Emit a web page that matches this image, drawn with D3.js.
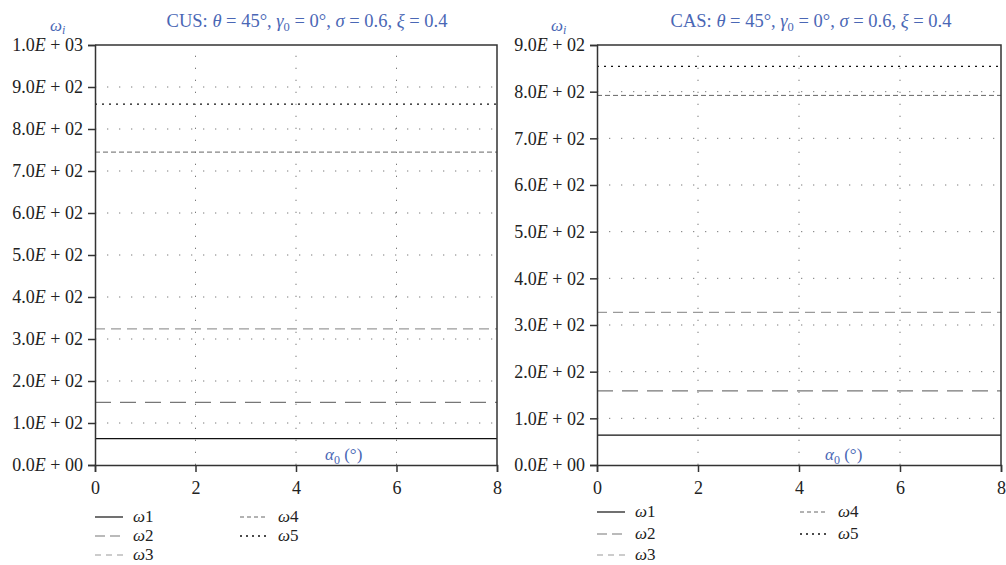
<!DOCTYPE html>
<html>
<head>
<meta charset="utf-8">
<script src="https://cdn.jsdelivr.net/npm/d3@7"></script>
<style>
  html, body { margin: 0; padding: 0; background: #fff; }
  svg { display: block; }
  svg text { font-family: "Liberation Serif", "DejaVu Serif", serif !important; }
</style>
</head>
<body>
<svg id="chart" width="1006" height="565"></svg>
<script>
// Natural frequencies ω1..ω5 versus initial angle α0 for the two layups
const alpha = [0, 8];
const xTicks = [0, 2, 4, 6, 8];
const seriesNames = ["1", "2", "3", "4", "5"];

// CUS layup: one value per end of the α0 range
const cusW1 = [63, 63];
const cusW2 = [149, 149];
const cusW3 = [324, 324];
const cusW4 = [745, 745];
const cusW5 = [859, 859];

// CAS layup
const casW1 = [64, 64];
const casW2 = [159, 159];
const casW3 = [327, 327];
const casW4 = [792, 792];
const casW5 = [854, 854];

const cusYTicks = [0, 100, 200, 300, 400, 500, 600, 700, 800, 900, 1000];
const casYTicks = [0, 100, 200, 300, 400, 500, 600, 700, 800, 900];

const blue = "#4a67b5";
const lineStyles = [
  { stroke: "#111", dash: null, width: 1.2 },
  { stroke: "#777", dash: "16,9", width: 1.2 },
  { stroke: "#9a9a9a", dash: "10,6", width: 1.2 },
  { stroke: "#666", dash: "5,3", width: 1 },
  { stroke: "#111", dash: "2,5", width: 1.3 }
];

const panels = [
  {
    name: "CUS", yMax: 1000, yTicks: cusYTicks,
    series: [cusW1, cusW2, cusW3, cusW4, cusW5],
    left: 95, right: 497, top: 45, bottom: 465,
    titleX: 307, wiX: 50, alphaX: 325,
    legend: { col1: 95, col2: 240, rows: [517, 536, 555] }
  },
  {
    name: "CAS", yMax: 900, yTicks: casYTicks,
    series: [casW1, casW2, casW3, casW4, casW5],
    left: 597, right: 1001, top: 45, bottom: 465,
    titleX: 811, wiX: 551, alphaX: 825,
    legend: { col1: 597, col2: 800, rows: [512, 534, 555] }
  }
];

const svg = d3.select("#chart");

function sciParts(v) {
  if (v === 0) return ["0.0", "00"];
  const e = Math.floor(Math.log10(v));
  const m = v / Math.pow(10, e);
  return [m.toFixed(1), String(e).padStart(2, "0")];
}

panels.forEach(p => {
  const g = svg.append("g");
  const x = d3.scaleLinear().domain([0, 8]).range([p.left, p.right]);
  const y = d3.scaleLinear().domain([0, p.yMax]).range([p.bottom, p.top]);

  // dotted grid
  g.append("g").selectAll("line")
    .data(p.yTicks.filter(v => v > 0 && v < p.yMax))
    .join("line")
    .attr("x1", p.left).attr("x2", p.right)
    .attr("y1", d => y(d)).attr("y2", d => y(d))
    .attr("stroke", "#7a7a7a").attr("stroke-width", 1)
    .attr("stroke-dasharray", "1.3,10.7");
  g.append("g").selectAll("line")
    .data(xTicks.filter(v => v > 0 && v < 8))
    .join("line")
    .attr("x1", d => x(d)).attr("x2", d => x(d))
    .attr("y1", p.bottom).attr("y2", p.top)
    .attr("stroke", "#7a7a7a").attr("stroke-width", 1)
    .attr("stroke-dasharray", "1.3,10.7");

  // frequency lines
  const line = d3.line().x((d, i) => x(alpha[i])).y(d => y(d));
  p.series.forEach((s, i) => {
    const st = lineStyles[i];
    g.append("path")
      .datum(s)
      .attr("d", line)
      .attr("fill", "none")
      .attr("stroke", st.stroke)
      .attr("stroke-width", st.width)
      .attr("stroke-dasharray", st.dash);
  });

  // frame: top and right edges
  g.append("path")
    .attr("d", `M${p.left},${p.top}H${p.right}V${p.bottom}`)
    .attr("fill", "none").attr("stroke", "#333").attr("stroke-width", 1.5);

  // y axis
  const yAxis = d3.axisLeft(y).tickValues(p.yTicks).tickSize(7).tickPadding(5)
    .tickFormat(d => d);
  const ya = g.append("g").attr("transform", `translate(${p.left},0)`).call(yAxis);
  ya.select(".domain").attr("stroke", "#333").attr("stroke-width", 1.5);
  ya.selectAll(".tick line").attr("stroke", "#333").attr("stroke-width", 1.5);
  ya.selectAll(".tick text")
    .attr("font-size", 18).attr("fill", "#222")
    .each(function(d) {
      const [m, e] = sciParts(d);
      const t = d3.select(this).text(null);
      t.append("tspan").text(m);
      t.append("tspan").attr("font-style", "italic").text("E");
      t.append("tspan").text(" + " + e);
    });

  // x axis
  const xAxis = d3.axisBottom(x).tickValues(xTicks).tickSize(7).tickPadding(9)
    .tickFormat(d3.format("d"));
  const xa = g.append("g").attr("transform", `translate(0,${p.bottom})`).call(xAxis);
  xa.select(".domain").attr("stroke", "#333").attr("stroke-width", 1.5);
  xa.selectAll(".tick line").attr("stroke", "#333").attr("stroke-width", 1.5);
  xa.selectAll(".tick text").attr("font-size", 18).attr("fill", "#222");

  // title
  const title = g.append("text")
    .attr("x", p.titleX).attr("y", 27)
    .attr("text-anchor", "middle").attr("font-size", 18.5).attr("fill", blue);
  title.append("tspan").text(p.name + ": ");
  title.append("tspan").attr("font-style", "italic").text("θ");
  title.append("tspan").text(" = 45°, ");
  title.append("tspan").attr("font-style", "italic").text("γ");
  title.append("tspan").attr("font-size", 12.5).attr("dy", 4).text("0");
  title.append("tspan").attr("dy", -4).text(" = 0°, ");
  title.append("tspan").attr("font-style", "italic").text("σ");
  title.append("tspan").text(" = 0.6, ");
  title.append("tspan").attr("font-style", "italic").text("ξ");
  title.append("tspan").text(" = 0.4");

  // y label ωi
  const wl = g.append("text").attr("x", p.wiX).attr("y", 31)
    .attr("font-size", 17).attr("fill", blue);
  wl.append("tspan").attr("font-style", "italic").text("ω");
  wl.append("tspan").attr("font-style", "italic").attr("font-size", 12).attr("dy", 3).text("i");

  // x label α0 (°)
  const al = g.append("text").attr("x", p.alphaX).attr("y", 460)
    .attr("font-size", 17).attr("fill", blue);
  al.append("tspan").attr("font-style", "italic").text("α");
  al.append("tspan").attr("font-size", 12).attr("dy", 4).text("0");
  al.append("tspan").attr("dy", -4).text(" (°)");

  // legend
  const slots = [
    [p.legend.col1, p.legend.rows[0]],
    [p.legend.col1, p.legend.rows[1]],
    [p.legend.col1, p.legend.rows[2]],
    [p.legend.col2, p.legend.rows[0]],
    [p.legend.col2, p.legend.rows[1]]
  ];
  const legendDash = [null, "10,5", "6,5", "4,3", "2,4"];
  seriesNames.forEach((n, i) => {
    const [lx, ly] = slots[i];
    const st = lineStyles[i];
    g.append("line")
      .attr("x1", lx).attr("x2", lx + 28).attr("y1", ly).attr("y2", ly)
      .attr("stroke", st.stroke).attr("stroke-width", st.width)
      .attr("stroke-dasharray", legendDash[i]);
    const t = g.append("text").attr("x", lx + 38).attr("y", ly + 5)
      .attr("font-size", 17).attr("fill", "#222");
    t.append("tspan").attr("font-style", "italic").text("ω");
    t.append("tspan").text(n);
  });
});
</script>
</body>
</html>
